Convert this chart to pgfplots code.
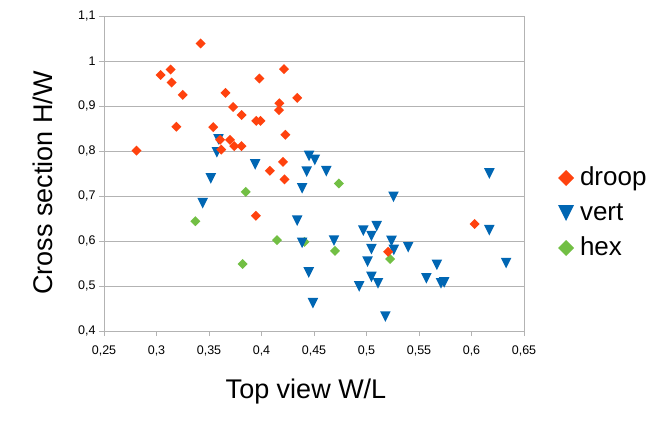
\documentclass[border=0pt]{standalone}
\usepackage{fontspec}
\setmainfont{Liberation Sans}
\usepackage{pgfplots}
\pgfplotsset{compat=1.18}
\definecolor{droopc}{HTML}{FF420E}
\definecolor{vertc}{HTML}{0066B3}
\definecolor{hexc}{HTML}{72BF44}
\definecolor{gridc}{HTML}{B3B3B3}
\pgfdeclareplotmark{dtri}{%
  \pgfpathmoveto{\pgfqpoint{-\pgfplotmarksize}{\pgfplotmarksize}}%
  \pgfpathlineto{\pgfqpoint{\pgfplotmarksize}{\pgfplotmarksize}}%
  \pgfpathlineto{\pgfqpoint{0pt}{-\pgfplotmarksize}}%
  \pgfpathclose\pgfusepathqfill}
\pgfdeclareplotmark{dia}{%
  \pgfpathmoveto{\pgfqpoint{0pt}{\pgfplotmarksize}}%
  \pgfpathlineto{\pgfqpoint{\pgfplotmarksize}{0pt}}%
  \pgfpathlineto{\pgfqpoint{0pt}{-\pgfplotmarksize}}%
  \pgfpathlineto{\pgfqpoint{-\pgfplotmarksize}{0pt}}%
  \pgfpathclose\pgfusepathqfill}
\begin{document}
\begin{tikzpicture}
\path[use as bounding box] (-104bp,-95bp) rectangle (562bp,331bp);
\begin{axis}[
  scale only axis, width=420bp, height=315bp,
  xmin=0.25, xmax=0.65, ymin=0.4, ymax=1.1,
  xtick={0.25,0.3,...,0.65}, ytick={0.4,0.5,...,1.1},
  /pgf/number format/assume math mode=true,
  /pgf/number format/use comma,
  xticklabel style={/pgf/number format/fixed,/pgf/number format/precision=2, yshift=-6bp},
  yticklabel style={/pgf/number format/fixed,/pgf/number format/precision=1},
  ticklabel style={font=\fontsize{12.5bp}{15bp}\selectfont},
  tick pos=left, tick align=outside, major tick length=5bp,
  tick style={color=gridc, line width=0.8bp},
  axis line style={color=gridc, line width=0.8bp},
  ymajorgrids, grid style={color=gridc, line width=0.8bp},
  xlabel={Top view W/L}, ylabel={Cross section H/W},
  label style={font=\fontsize{27bp}{32bp}\selectfont},
  xlabel style={at={(axis description cs:0.481,-0.2127)}, anchor=base},
  ylabel style={at={(axis description cs:-0.1238,0.47)}, anchor=base},
  legend style={draw=none, fill=none, inner sep=0pt, outer sep=0pt,
    at={(axis description cs:1.081,0.3746)}, anchor=west,
    font=\fontsize{26bp}{30bp}\selectfont, row sep=9bp, column sep=5bp,
    nodes={inner sep=1bp, text height=19bp, text depth=5bp}},
  legend cell align=left,
  reverse legend,
  legend image code/.code={\draw[#1, mark size=8bp] plot coordinates {(0bp,0bp)};},
]
\addplot[only marks, mark=dia, mark size=5bp, color=hexc] coordinates {
(0.385,0.709) (0.337,0.644) (0.4148,0.602) (0.441,0.598) (0.382,0.549)
(0.4737,0.728) (0.470,0.578) (0.5225,0.560)
};
\addlegendentry{hex}
\addplot[only marks, mark=dtri, mark size=5.3bp, color=vertc] coordinates {
(0.3517,0.739) (0.344,0.684) (0.359,0.826) (0.3575,0.797) (0.394,0.770)
(0.4453,0.789) (0.4508,0.780) (0.443,0.754) (0.4617,0.755) (0.4387,0.717)
(0.434,0.645) (0.617,0.750) (0.5257,0.698) (0.497,0.623) (0.5097,0.633)
(0.5047,0.611) (0.617,0.624) (0.469,0.601) (0.5238,0.600) (0.5047,0.582)
(0.526,0.580) (0.5397,0.586) (0.501,0.554) (0.4387,0.596) (0.445,0.530)
(0.5047,0.520) (0.511,0.506) (0.493,0.499) (0.557,0.517) (0.567,0.547)
(0.571,0.506) (0.574,0.508) (0.633,0.551) (0.449,0.462) (0.518,0.432)
};
\addlegendentry{vert}
\addplot[only marks, mark=dia, mark size=5bp, color=droopc] coordinates {
(0.342,1.039) (0.304,0.969) (0.3135,0.981) (0.3144,0.952) (0.325,0.925)
(0.319,0.854) (0.281,0.801) (0.3657,0.929) (0.373,0.898) (0.381,0.880)
(0.398,0.961) (0.4215,0.982) (0.434,0.918) (0.417,0.906) (0.4167,0.891)
(0.395,0.867) (0.399,0.867) (0.354,0.853) (0.4228,0.836) (0.3606,0.825)
(0.370,0.825) (0.3616,0.803) (0.374,0.811) (0.381,0.811) (0.4205,0.776)
(0.408,0.756) (0.422,0.737) (0.3947,0.656) (0.603,0.638) (0.5206,0.576)
};
\addlegendentry{droop}
\end{axis}
\end{tikzpicture}
\end{document}
